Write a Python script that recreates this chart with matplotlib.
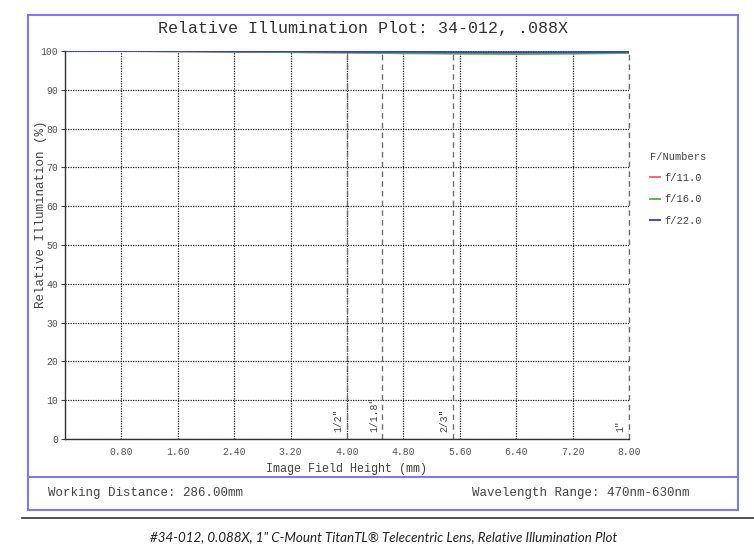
import matplotlib
matplotlib.use("Agg")
import matplotlib.pyplot as plt
from matplotlib.patches import Rectangle
from matplotlib.lines import Line2D

field_height = [0.0, 0.8, 1.6, 2.4, 3.2, 4.0, 4.8, 5.6, 6.4, 7.2, 8.0]
f11 = [100.0, 100.0, 99.9, 99.8, 99.7, 99.6, 99.5, 99.4, 99.4, 99.5, 99.6]
f16 = [100.0, 100.0, 99.9, 99.8, 99.7, 99.6, 99.4, 99.3, 99.2, 99.3, 99.5]
f22 = [100.0, 100.0, 100.0, 99.9, 99.9, 99.8, 99.8, 99.7, 99.7, 99.7, 99.8]
series_labels = ["f/11.0", "f/16.0", "f/22.0"]
sensor_names = ['1/2"', '1/1.8"', '2/3"', '1"']
sensor_heights = [4.0, 4.5, 5.5, 8.0]
x_ticks = [0.8, 1.6, 2.4, 3.2, 4.0, 4.8, 5.6, 6.4, 7.2, 8.0]
y_ticks = [0, 10, 20, 30, 40, 50, 60, 70, 80, 90, 100]

mono = "Liberation Mono"
W, H = 754, 555
fig = plt.figure(figsize=(W / 100, H / 100), dpi=100)

def fx(px):
    return px / W

def fy(py):
    return 1 - py / H

# outer box
fig.add_artist(Rectangle((fx(28), fy(510)), fx(738) - fx(28), fy(15) - fy(510),
                         transform=fig.transFigure, fill=False,
                         edgecolor="#7b7bef", linewidth=1.5))
fig.add_artist(Line2D([fx(28), fx(738)], [fy(477), fy(477)], transform=fig.transFigure,
                      color="#7b7bef", linewidth=1.5))
fig.add_artist(Line2D([fx(22), fx(754)], [fy(518), fy(518)], transform=fig.transFigure,
                      color="#333333", linewidth=1.2))

ax = fig.add_axes([fx(65), fy(439), fx(629) - fx(65), fy(51) - fy(439)])
colors = ["#ff5a5a", "#4caf50", "#3c3cc8"]
for vals, lab, c in zip([f11, f16, f22], series_labels, colors):
    ax.plot(field_height, vals, color=c, linewidth=1.3, label=lab)

ax.set_xlim(0, 8.0)
ax.set_ylim(0, 100)
ax.set_xticks(x_ticks)
ax.set_xticklabels([f"{v:.2f}" for v in x_ticks])
ax.set_yticks(y_ticks)
ax.set_yticklabels([str(v) for v in y_ticks])
ax.tick_params(axis="x", length=0, pad=6, labelsize=7, labelcolor="#555555")
ax.tick_params(axis="y", length=3, width=0.8, color="#444444", pad=2, labelsize=7,
               labelcolor="#555555")
for lbl in ax.get_xticklabels() + ax.get_yticklabels():
    lbl.set_fontfamily(mono)

ax.grid(True, linestyle=(0, (1, 1)), color="#222222", linewidth=0.9)
ax.set_axisbelow(True)
for s in ["top", "right"]:
    ax.spines[s].set_visible(False)
for s in ["left", "bottom"]:
    ax.spines[s].set_color("#333333")
    ax.spines[s].set_linewidth(1.0)

for name, h in zip(sensor_names, sensor_heights):
    ax.axvline(h, color="#707070", linestyle=(0, (4, 3)), linewidth=1.0, zorder=1.5,
               clip_on=False)
    ax.annotate(name, xy=(h, 0), xytext=(-6, 5), textcoords="offset points",
                rotation=90, ha="center", va="bottom", fontsize=7,
                family=mono, color="#444444")

ax.set_xlabel("Image Field Height (mm)", family=mono, fontsize=8.5, color="#444444",
              labelpad=4)
ax.set_ylabel("Relative Illumination (%)", family=mono, fontsize=9, color="#444444")
ax.yaxis.set_label_coords((47 - 65) / 564, (439 - 214) / 388)

leg = ax.legend(title="F/Numbers", loc="upper left", bbox_to_anchor=(1.02, 0.765),
                frameon=False, handlelength=1.0, handletextpad=0.4,
                labelspacing=1.1, prop={"family": mono, "size": 7.5})
leg.get_title().set_fontfamily(mono)
leg.get_title().set_fontsize(7.5)
leg.get_title().set_color("#444444")
leg._legend_box.align = "left"
for t in leg.get_texts():
    t.set_color("#444444")

fig.text(fx(363), fy(28), "Relative Illumination Plot: 34-012, .088X", family=mono,
         fontsize=12, color="#333333", ha="center", va="center")
fig.text(fx(48), fy(493), "Working Distance: 286.00mm", family=mono, fontsize=9,
         color="#444444", ha="left", va="center")
fig.text(fx(690), fy(493), "Wavelength Range: 470nm-630nm", family=mono, fontsize=9,
         color="#444444", ha="right", va="center")
fig.text(fx(384), fy(537),
         "#34-012, 0.088X, 1\" C-Mount TitanTL\u00ae Telecentric Lens, Relative Illumination Plot",
         family="Lato", style="italic", fontsize=9.6, color="#222222",
         ha="center", va="center")

fig.savefig("out.png", dpi=100)
